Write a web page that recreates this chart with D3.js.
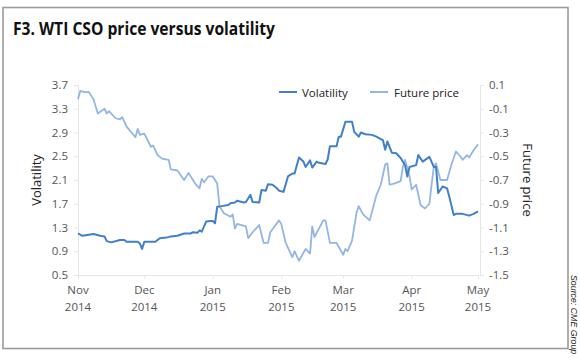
<!DOCTYPE html>
<html><head><meta charset="utf-8">
<script src="https://cdn.jsdelivr.net/npm/d3@7"></script>
<style>
body{margin:0;background:#fff;}
svg{display:block;font-family:"Open Sans","DejaVu Sans",sans-serif;}
</style></head>
<body><svg id="c" width="580" height="358"></svg>
<script>
const volDates = ["2014-11-01","2014-11-03","2014-11-08","2014-11-11","2014-11-13","2014-11-14","2014-11-16","2014-11-20","2014-11-22","2014-11-23","2014-11-28","2014-11-29","2014-11-30","2014-12-01","2014-12-06","2014-12-08","2014-12-11","2014-12-13","2014-12-16","2014-12-19","2014-12-22","2014-12-23","2014-12-25","2014-12-26","2014-12-27","2014-12-29","2014-12-31","2015-01-01","2015-01-02","2015-01-03","2015-01-05","2015-01-08","2015-01-09","2015-01-11","2015-01-12","2015-01-15","2015-01-16","2015-01-18","2015-01-19","2015-01-22","2015-01-23","2015-01-25","2015-01-26","2015-01-28","2015-01-30","2015-01-31","2015-02-02","2015-02-04","2015-02-06","2015-02-07","2015-02-09","2015-02-11","2015-02-12","2015-02-14","2015-02-15","2015-02-17","2015-02-18","2015-02-21","2015-02-22","2015-02-23","2015-02-26","2015-02-27","2015-02-28","2015-03-02","2015-03-05","2015-03-06","2015-03-08","2015-03-09","2015-03-11","2015-03-14","2015-03-16","2015-03-18","2015-03-19","2015-03-20","2015-03-21","2015-03-23","2015-03-25","2015-03-27","2015-03-29","2015-03-30","2015-03-31","2015-04-03","2015-04-04","2015-04-06","2015-04-09","2015-04-11","2015-04-12","2015-04-13","2015-04-15","2015-04-17","2015-04-18","2015-04-20","2015-04-21","2015-04-24","2015-04-27","2015-04-29","2015-05-01"];
const volValues = [1.20,1.16,1.19,1.16,1.15,1.07,1.05,1.09,1.09,1.06,1.06,1.03,0.94,1.06,1.06,1.12,1.13,1.15,1.16,1.20,1.20,1.22,1.21,1.25,1.23,1.40,1.41,1.41,1.37,1.65,1.66,1.68,1.71,1.72,1.75,1.72,1.73,1.85,1.73,1.72,1.93,1.92,2.03,2.02,1.96,1.92,1.90,2.16,2.21,2.21,2.48,2.41,2.32,2.43,2.31,2.41,2.39,2.37,2.45,2.67,2.67,2.83,2.83,3.08,3.08,2.91,2.83,2.90,2.87,2.86,2.83,2.79,2.77,2.61,2.75,2.56,2.55,2.47,2.35,2.16,2.32,2.35,2.52,2.41,2.49,2.32,2.32,1.88,1.99,1.96,1.82,1.51,1.53,1.53,1.50,1.53,1.57];

const priceDates = ["2014-11-01","2014-11-02","2014-11-04","2014-11-06","2014-11-08","2014-11-10","2014-11-13","2014-11-14","2014-11-15","2014-11-18","2014-11-20","2014-11-21","2014-11-23","2014-11-27","2014-11-28","2014-11-29","2014-12-01","2014-12-04","2014-12-05","2014-12-07","2014-12-09","2014-12-12","2014-12-13","2014-12-16","2014-12-19","2014-12-21","2014-12-24","2014-12-26","2014-12-27","2014-12-28","2014-12-30","2015-01-01","2015-01-03","2015-01-04","2015-01-06","2015-01-09","2015-01-10","2015-01-11","2015-01-12","2015-01-16","2015-01-17","2015-01-19","2015-01-22","2015-01-24","2015-01-26","2015-01-27","2015-01-31","2015-02-01","2015-02-03","2015-02-06","2015-02-07","2015-02-09","2015-02-12","2015-02-14","2015-02-15","2015-02-16","2015-02-20","2015-02-21","2015-02-23","2015-02-26","2015-03-01","2015-03-02","2015-03-03","2015-03-05","2015-03-07","2015-03-08","2015-03-10","2015-03-13","2015-03-15","2015-03-16","2015-03-18","2015-03-20","2015-03-21","2015-03-22","2015-03-24","2015-03-27","2015-03-28","2015-03-29","2015-03-31","2015-04-01","2015-04-03","2015-04-05","2015-04-07","2015-04-09","2015-04-10","2015-04-11","2015-04-12","2015-04-14","2015-04-17","2015-04-19","2015-04-21","2015-04-23","2015-04-24","2015-04-26","2015-04-27","2015-04-29","2015-05-01"];
const priceValues = [-0.02,0.05,0.04,0.04,-0.02,-0.14,-0.10,-0.14,-0.12,-0.18,-0.19,-0.17,-0.25,-0.34,-0.27,-0.32,-0.31,-0.42,-0.41,-0.49,-0.52,-0.53,-0.61,-0.62,-0.70,-0.64,-0.73,-0.77,-0.69,-0.72,-0.67,-0.67,-0.73,-0.92,-0.98,-1.01,-0.99,-1.11,-1.07,-1.09,-1.19,-1.14,-1.08,-1.23,-1.23,-1.14,-1.04,-1.07,-1.23,-1.35,-1.30,-1.38,-1.28,-1.32,-1.09,-1.18,-1.04,-1.04,-1.23,-1.23,-1.33,-1.28,-1.30,-1.21,-0.98,-0.92,-0.99,-1.04,-0.90,-0.83,-0.74,-0.57,-0.56,-0.74,-0.73,-0.71,-0.59,-0.53,-0.67,-0.78,-0.74,-0.91,-0.94,-0.90,-0.74,-0.59,-0.56,-0.70,-0.70,-0.57,-0.46,-0.50,-0.53,-0.49,-0.51,-0.45,-0.40];

const volTicks = [0.5,0.9,1.3,1.7,2.1,2.5,2.9,3.3,3.7];
const priceTicks = [-1.5,-1.3,-1.1,-0.9,-0.7,-0.5,-0.3,-0.1,0.1];
const monthTicks = ["2014-11-01","2014-12-01","2015-01-01","2015-02-01","2015-03-01","2015-04-01","2015-05-01"];
const monthNames = ["Nov","Dec","Jan","Feb","Mar","Apr","May"];
const seriesNames = ["Volatility","Future price"];
const title = "F3. WTI CSO price versus volatility";
const source = "Source: CME Group";

const volColor = "#3f80c8", priceColor = "#93b7e2";
const parse = d3.timeParse("%Y-%m-%d");
const svg = d3.select("#c");

// frame
svg.append("rect").attr("x",3).attr("y",7.5).attr("width",565).attr("height",341)
  .attr("fill","none").attr("stroke","#9b9b9b").attr("stroke-width",1.6);

svg.append("text").attr("x",13).attr("y",35).attr("font-size",17).attr("font-weight",700)
  .attr("fill","#111").attr("textLength",262).attr("lengthAdjust","spacingAndGlyphs").text(title);

const L=78,R=478,T=85,B=275;
const x = d3.scaleTime().domain([parse(monthTicks[0]), parse(monthTicks[6])]).range([L,R]);
const yL = d3.scaleLinear().domain([0.5,3.7]).range([B,T]);
const yR = d3.scaleLinear().domain([-1.5,0.1]).range([B,T]);

const gridCol = "#e6e6e6", tickText = "#555";
const gl = svg.append("g").attr("transform",`translate(${L},0)`)
  .call(d3.axisLeft(yL).tickValues(volTicks).tickFormat(d3.format(".1f")).tickSize(4).tickPadding(6));
const gr = svg.append("g").attr("transform",`translate(${R+2},0)`)
  .call(d3.axisRight(yR).tickValues(priceTicks).tickFormat(d=>d3.format(".1f")(d).replace("−","-")).tickSize(4).tickPadding(5));
const gb = svg.append("g").attr("transform",`translate(0,${B})`)
  .call(d3.axisBottom(x).tickValues(monthTicks.map(parse)).tickFormat("").tickSize(4));
[gl,gr,gb].forEach(g=>{
  g.selectAll("path").attr("stroke",gridCol);
  g.selectAll("line").attr("stroke",gridCol);
  g.selectAll("text").attr("fill",tickText).attr("font-size",11.5).attr("font-family","'Open Sans',sans-serif");
});
// month labels (two separate lines)
const ml = svg.append("g").attr("font-size",11.5).attr("fill",tickText).attr("text-anchor","middle");
monthTicks.forEach((m,i)=>{
  const px = x(parse(m));
  ml.append("text").attr("x",px).attr("y",294).text(monthNames[i]);
  ml.append("text").attr("x",px).attr("y",310.5).text(m.slice(0,4));
});

// axis titles
svg.append("text").attr("transform","translate(41,180) rotate(-90)").attr("text-anchor","middle")
  .attr("font-size",13).attr("fill","#222").text(seriesNames[0]);
svg.append("text").attr("transform","translate(523,180) rotate(90)").attr("text-anchor","middle")
  .attr("font-size",13).attr("fill","#222").text(seriesNames[1]);

// lines
const priceData = priceDates.map((d,i)=>({d:parse(d),v:priceValues[i]}));
const volData = volDates.map((d,i)=>({d:parse(d),v:volValues[i]}));
svg.append("path").datum(priceData).attr("fill","none").attr("stroke",priceColor).attr("stroke-width",1.8)
  .attr("stroke-linejoin","round").attr("d",d3.line().x(p=>x(p.d)).y(p=>yR(p.v)));
svg.append("path").datum(volData).attr("fill","none").attr("stroke",volColor).attr("stroke-width",2)
  .attr("stroke-linejoin","round").attr("d",d3.line().x(p=>x(p.d)).y(p=>yL(p.v)));

// legend
const lg = svg.append("g");
[[279,volColor,302],[370,priceColor,394]].forEach((a,i)=>{
  lg.append("line").attr("x1",a[0]).attr("x2",a[0]+18).attr("y1",92).attr("y2",92)
    .attr("stroke",a[1]).attr("stroke-width",2);
  lg.append("text").attr("x",a[2]).attr("y",96.5).attr("font-size",11.5).attr("fill","#222").text(seriesNames[i]);
});

// source
svg.append("text").attr("transform","translate(571,275) rotate(90)").attr("font-size",8.8)
  .attr("font-style","italic").attr("font-family","'Liberation Sans',sans-serif").attr("fill","#222").text(source);
</script></body></html>
